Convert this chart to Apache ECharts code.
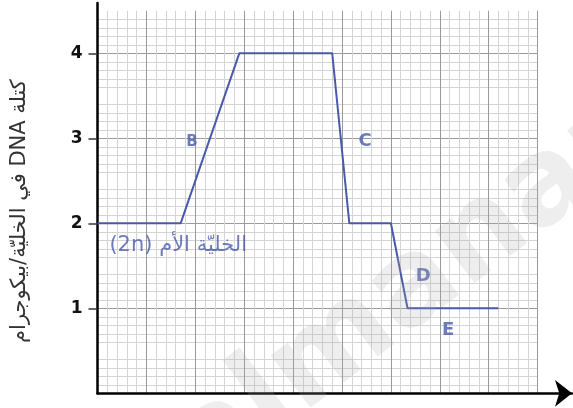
<!DOCTYPE html>
<html>
<head>
<meta charset="utf-8">
<script src="https://cdn.jsdelivr.net/npm/echarts@6/dist/echarts.min.js"></script>
<style>
  html, body { margin: 0; padding: 0; background: #fff; }
  #chart { width: 573px; height: 408px; }
</style>
</head>
<body>
<div id="chart"></div>
<script>
// DNA mass per cell (picograms) along the cell cycle
var curveX = [0, 1.7, 2.9, 4.8, 5.15, 6.0, 6.34, 8.2];
var curveY = [2, 2, 4, 4, 2, 2, 1, 1];

var letterNames = ['B', 'C', 'D', 'E'];
var letterX = [1.93, 5.47, 6.66, 7.17];
var letterY = [2.96, 2.97, 1.38, 0.74];

var motherText = 'الخليّة الأم (2n)';
var motherX = 1.65;
var motherY = 1.74;

var yTicks = [1, 2, 3, 4];
var yName = 'كتلة DNA في الخليّة/بيكوجرام';

var blue = '#4a5aaa';

// force right-to-left layout for the arabic strings
function rtl(s) {
    return '\u202B' + s + '\u202C';
}

var dom = document.getElementById('chart');
var myChart = echarts.init(dom);

var curve = [];
for (var i = 0; i < curveX.length; i++) curve.push([curveX[i], curveY[i]]);

var letters = [];
for (var j = 0; j < letterNames.length; j++) {
    letters.push({
        value: [letterX[j], letterY[j]],
        name: letterNames[j],
        // B is printed a bit smaller than the others
        label: {
            show: true,
            position: 'inside',
            formatter: '{b}',
            color: blue,
            fontWeight: 'bold',
            fontFamily: 'DejaVu Sans',
            fontSize: letterNames[j] === 'B' ? 15 : 18
        }
    });
}

var option = {
    backgroundColor: '#fff',
    animation: false,
    graphic: [{
        type: 'text',
        left: 150,
        top: 80,
        rotation: 0.65,
        z: 100,
        silent: true,
        style: {
            text: 'almanar',
            font: 'bold 120px "DejaVu Sans"',
            fill: 'rgba(170,170,170,0.2)'
        }
    }],
    grid: [
        { left: 97.5, right: 35.4, top: 10.8, bottom: 14.7, outerBoundsMode: 'none' },
        { left: 97.5, right: 1, top: 3, bottom: 14.7, outerBoundsMode: 'none' }
    ],
    xAxis: [{
        gridIndex: 0,
        type: 'value',
        min: 0,
        max: 9,
        interval: 1,
        axisLine: { show: false },
        axisTick: { show: false },
        axisLabel: { show: false },
        splitLine: { show: true, lineStyle: { color: '#9a9a9a', width: 1 } },
        minorTick: { show: false, splitNumber: 5 },
        minorSplitLine: { show: true, lineStyle: { color: '#d4d4d4', width: 1 } }
    }, {
        gridIndex: 1,
        type: 'value',
        min: 0,
        max: 1,
        axisLine: {
            show: true,
            symbol: ['none', 'arrow'],
            symbolSize: [20, 17],
            lineStyle: { color: '#000', width: 2.5 }
        },
        axisTick: { show: false },
        axisLabel: { show: false },
        splitLine: { show: false }
    }],
    yAxis: [{
        gridIndex: 0,
        type: 'value',
        min: 0,
        max: 4.5,
        interval: 0.5,
        name: rtl(yName),
        nameLocation: 'middle',
        nameRotate: 90,
        nameGap: 67,
        nameTextStyle: {
            fontSize: 21,
            color: '#333',
            fontFamily: 'DejaVu Sans',
            padding: [0, 18, 0, 0]
        },
        axisLine: { show: false },
        axisTick: {
            show: true,
            customValues: yTicks,
            length: 9,
            lineStyle: { color: '#333', width: 1.5 }
        },
        axisLabel: {
            show: true,
            customValues: yTicks,
            margin: 15,
            fontSize: 17,
            fontWeight: 'bold',
            color: '#111',
            fontFamily: 'DejaVu Sans'
        },
        splitLine: { show: true, lineStyle: { color: '#9a9a9a', width: 1 } },
        minorTick: { show: false, splitNumber: 5 },
        minorSplitLine: { show: true, lineStyle: { color: '#d4d4d4', width: 1 } }
    }, {
        gridIndex: 1,
        type: 'value',
        min: 0,
        max: 1,
        axisLine: { show: true, lineStyle: { color: '#000', width: 2.5 } },
        axisTick: { show: false },
        axisLabel: { show: false },
        splitLine: { show: false }
    }],
    series: [{
        type: 'line',
        xAxisIndex: 0,
        yAxisIndex: 0,
        data: curve,
        showSymbol: false,
        symbol: 'none',
        lineStyle: { color: blue, width: 2 },
        z: 5
    }, {
        type: 'scatter',
        xAxisIndex: 0,
        yAxisIndex: 0,
        data: letters,
        symbolSize: 0,
        z: 6
    }, {
        type: 'scatter',
        xAxisIndex: 0,
        yAxisIndex: 0,
        data: [[motherX, motherY]],
        symbolSize: 0,
        label: {
            show: true,
            position: 'inside',
            formatter: rtl(motherText),
            color: blue,
            fontSize: 21,
            fontFamily: 'DejaVu Sans'
        },
        z: 6
    }]
};

if (option && typeof option === "object") {
    myChart.setOption(option, true);
}
</script>
</body>
</html>
